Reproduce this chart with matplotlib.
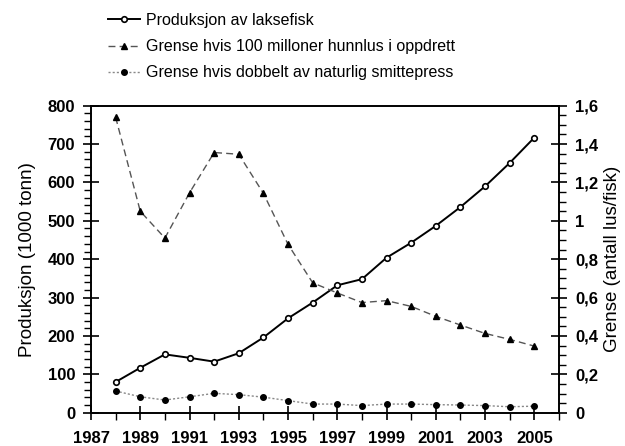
import matplotlib
matplotlib.use("Agg")
import matplotlib.pyplot as plt
from matplotlib.ticker import MultipleLocator, FixedLocator, FixedFormatter

plt.rcParams['font.family'] = ['Liberation Sans', 'DejaVu Sans']

# DATA
years = list(range(1988, 2006))
produksjon = [80, 117, 152, 143, 133, 155, 196, 246, 287, 332,
              348, 404, 443, 487, 536, 590, 651, 717]
grense_100 = [1.54, 1.05, 0.91, 1.146, 1.356, 1.347, 1.143, 0.877, 0.677, 0.624,
              0.574, 0.584, 0.554, 0.502, 0.457, 0.413, 0.382, 0.347]
grense_dobbel = [0.113, 0.083, 0.066, 0.083, 0.101, 0.094, 0.081, 0.063, 0.045, 0.045,
                 0.037, 0.045, 0.045, 0.042, 0.040, 0.037, 0.031, 0.034]

x_labels = [str(y) for y in range(1987, 2006, 2)]
right_ticks = [0, 0.2, 0.4, 0.6, 0.8, 1.0, 1.2, 1.4, 1.6]
right_labels = ['0', '0,2', '0,4', '0,6', '0,8', '1', '1,2', '1,4', '1,6']

labels = ['Produksjon av laksefisk',
          'Grense hvis 100 milloner hunnlus i oppdrett',
          'Grense hvis dobbelt av naturlig smittepress']

# PLOT
fig = plt.figure(figsize=(6.25, 4.46), dpi=100)
ax = fig.add_axes([91 / 625, 1 - 412.7 / 446, (559 - 91) / 625, (412.7 - 105.7) / 446])
ax2 = ax.twinx()

l1, = ax.plot(years, produksjon, '-', color='black', lw=1.4, marker='o', ms=4,
              mfc='white', mec='black', mew=1.2, zorder=5)
l2, = ax2.plot(years, grense_100, color='#555555', lw=1.0, ls=(0, (5, 3)),
               marker='^', ms=5, mfc='black', mec='black')
l3, = ax2.plot(years, grense_dobbel, color='#888888', lw=1.0, ls=(0, (1.5, 1.5)),
               marker='o', ms=4, mfc='black', mec='black')

ax.set_xlim(1987, 2006)
ax.set_ylim(0, 800)
ax2.set_ylim(0, 1.6)

ax.xaxis.set_major_locator(FixedLocator(range(1987, 2006, 2)))
ax.xaxis.set_major_formatter(FixedFormatter(x_labels))
ax.xaxis.set_minor_locator(FixedLocator(range(1988, 2007, 2)))
ax.yaxis.set_major_locator(MultipleLocator(100))
ax.yaxis.set_minor_locator(MultipleLocator(20))
ax2.yaxis.set_major_locator(FixedLocator(right_ticks))
ax2.yaxis.set_major_formatter(FixedFormatter(right_labels))
ax2.yaxis.set_minor_locator(MultipleLocator(0.05))

ax.tick_params(axis='x', which='major', direction='inout', length=10, width=1.2,
               pad=8, labelsize=12)
ax.tick_params(axis='x', which='minor', direction='out', length=5, width=1.0)
ax.tick_params(axis='y', which='major', direction='inout', length=11, width=1.2,
               pad=6, labelsize=12)
ax.tick_params(axis='y', which='minor', direction='out', length=5, width=1.0)
ax2.tick_params(axis='y', which='major', direction='inout', length=11, width=1.2,
                pad=6, labelsize=12)
ax2.tick_params(axis='y', which='minor', direction='out', length=5, width=1.0)

for lab in ax.get_xticklabels() + ax.get_yticklabels() + ax2.get_yticklabels():
    lab.set_fontweight('bold')

for sp in ax.spines.values():
    sp.set_linewidth(1.2)
for sp in ax2.spines.values():
    sp.set_linewidth(1.2)

ax.set_ylabel('Produksjon (1000 tonn)', fontsize=13.5, labelpad=8)
ax2.set_ylabel('Grense (antall lus/fisk)', fontsize=13.5, labelpad=4)

fig.legend([l1, l2, l3], labels, loc='upper left',
           bbox_to_anchor=(108 / 625, 1 - 13 / 446), frameon=False, fontsize=11.5,
           handlelength=2.0, handletextpad=0.4, labelspacing=0.7,
           borderpad=0, borderaxespad=0)

fig.savefig('out.png', dpi=100)
